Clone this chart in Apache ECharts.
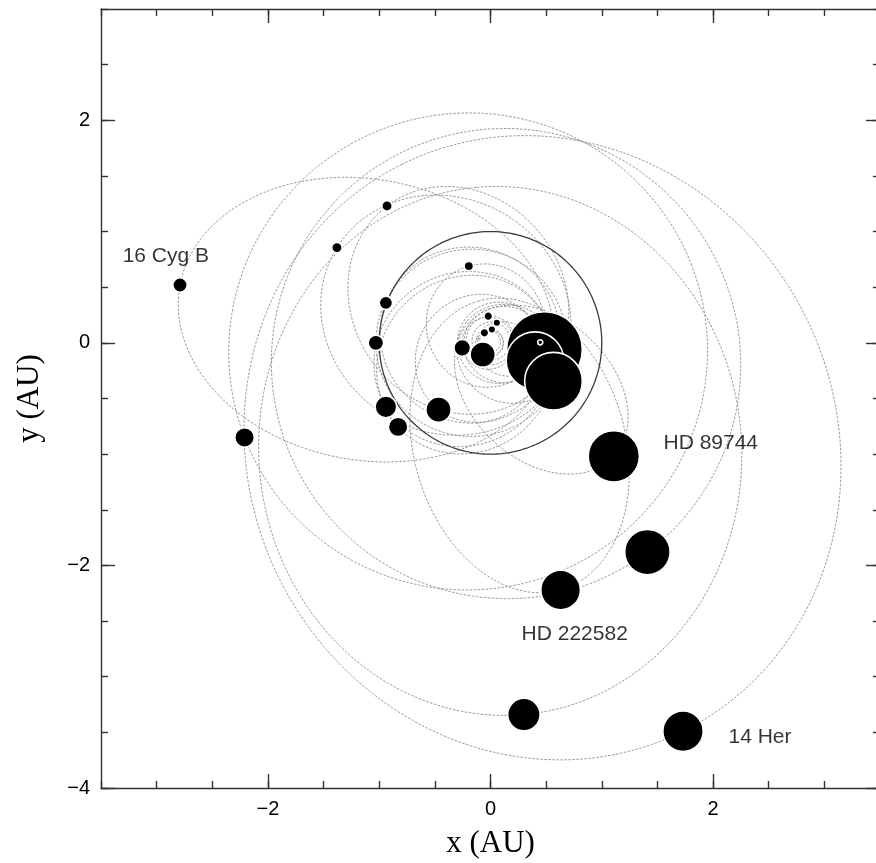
<!DOCTYPE html>
<html>
<head>
<meta charset="utf-8">
<script src="https://cdn.jsdelivr.net/npm/echarts@6/dist/echarts.min.js"></script>
<style>
html,body{margin:0;padding:0;background:#fff;}
#chart{width:876px;height:863px;}
</style>
</head>
<body>
<div id="chart"></div>
<script>
// Planet positions (AU) at apoastron
const planetX = [-2.79, -2.21, -0.93, -1.38, -0.94, -1.03, -0.94, -0.83, -0.467, -0.195, -0.254, -0.07, 0.485, 0.40, 0.447, 0.566, 1.108, 1.41, 0.63, 0.30, 1.73, -0.02, 0.057, 0.012, -0.055];
const planetY = [0.52, -0.85, 1.23, 0.855, 0.36, 0.0, -0.575, -0.755, -0.60, 0.69, -0.045, -0.105, -0.06, -0.16, 0.005, -0.345, -1.02, -1.88, -2.22, -3.34, -3.49, 0.24, 0.18, 0.12, 0.09];
// Orbital eccentricities
const ecc = [0.67, 0.10, 0.45, 0.41, 0.24, 0.20, 0.34, 0.35, 0.30, 0.29, 0.10, 0.05, 0.34, 0.53, 0.20, 0.40, 0.70, 0.11, 0.71, 0.41, 0.37, 0.10, 0.10, 0.05, 0.10];
// Minimum masses (Jupiter masses)
const mass = [1.8, 2.5, 1.25, 1.25, 1.65, 1.95, 2.8, 2.5, 3.3, 1.1, 2.1, 3.3, 10.3, 7.8, 0.5, 7.8, 6.9, 6.1, 5.3, 4.3, 5.4, 1.0, 0.85, 0.85, 1.0];
// Reference orbit of the Earth (AU)
const earthOrbitRadius = 1;

// Star labels
const labelNames = ['16 Cyg B', 'HD 89744', 'HD 222582', '14 Her'];
const labelX = [-3.306, 1.554, 0.279, 2.138];
const labelY = [0.775, -0.905, -2.62, -3.546];

// Axis ticks
const xMajorTicks = [-2, 0, 2];
const xMinorTicks = [-3.5, -3, -2.5, -2, -1.5, -1, -0.5, 0, 0.5, 1, 1.5, 2, 2.5, 3, 3.5];
const yMajorTicks = [-4, -2, 0, 2];
const yMinorTicks = [-4, -3.5, -3, -2.5, -2, -1.5, -1, -0.5, 0, 0.5, 1, 1.5, 2, 2.5, 3];

function orbitPoints(px, py, e) {
  const R = Math.hypot(px, py);
  const a = R / (1 + e);
  const wPer = Math.atan2(py, px) + Math.PI;
  const pts = [];
  for (let k = 0; k <= 720; k++) {
    const th = k * Math.PI / 360;
    const r = a * (1 - e * e) / (1 + e * Math.cos(th));
    pts.push([r * Math.cos(th + wPer), r * Math.sin(th + wPer)]);
  }
  return pts;
}

const chart = echarts.init(document.getElementById('chart'), null, {renderer: 'canvas'});
const fmt = v => String(v).replace('-', '\u2212');
const frame = {color: '#333', width: 1.4};
const tickFont = {fontFamily: 'Liberation Sans, Arial, sans-serif', fontSize: 20, color: '#000'};

function xAx(pos, major, showLabel, showLine) {
  return {
    type: 'value', position: pos, min: -3.5, max: 3.5,
    axisLine: {show: showLine, onZero: false, lineStyle: frame},
    axisTick: {show: true, inside: true, length: major ? 14 : 7, lineStyle: frame,
      customValues: major ? xMajorTicks : xMinorTicks},
    axisLabel: showLabel ? Object.assign({show: true, margin: 11, formatter: fmt, customValues: xMajorTicks}, tickFont) : {show: false},
    splitLine: {show: false},
    name: showLabel ? 'x (AU)' : '',
    nameLocation: 'middle', nameGap: 40,
    nameTextStyle: {fontFamily: 'Liberation Serif, Times New Roman, serif', fontSize: 31, color: '#000'}
  };
}
function yAx(pos, major, showLabel, showLine) {
  return {
    type: 'value', position: pos, min: -4, max: 3,
    axisLine: {show: showLine, onZero: false, lineStyle: frame},
    axisTick: {show: true, inside: true, length: major ? 14 : 7, lineStyle: frame,
      customValues: major ? yMajorTicks : yMinorTicks},
    axisLabel: showLabel ? Object.assign({show: true, margin: 11, formatter: fmt, customValues: yMajorTicks}, tickFont) : {show: false},
    splitLine: {show: false},
    name: showLabel ? 'y (AU)' : '',
    nameLocation: 'middle', nameGap: 56,
    nameTextStyle: {fontFamily: 'Liberation Serif, Times New Roman, serif', fontSize: 31, color: '#000'}
  };
}

const series = [];
for (let i = 0; i < planetX.length; i++) {
  series.push({
    type: 'line', xAxisIndex: 0, yAxisIndex: 0, showSymbol: false, silent: true,
    data: orbitPoints(planetX[i], planetY[i], ecc[i]),
    lineStyle: {color: '#8c8c8c', width: 0.9, type: [2.5, 1.5]},
    z: 2
  });
}
series.push({
  type: 'line', showSymbol: false, silent: true,
  data: orbitPoints(earthOrbitRadius, 0, 0),
  lineStyle: {color: '#3a3a3a', width: 1.3},
  z: 3
});
series.push({
  type: 'scatter', silent: true,
  data: planetX.map((x, i) => [x, planetY[i], mass[i]]),
  symbol: 'circle',
  symbolSize: d => d[2] * 7.2 + 1.5,
  itemStyle: {color: '#000', borderColor: '#fff', borderWidth: 1.6, opacity: 1},
  z: 5
});
series.push({
  type: 'scatter', silent: true,
  data: labelNames.map((n, i) => ({name: n, value: [labelX[i], labelY[i]]})),
  symbolSize: 0.1,
  itemStyle: {color: 'rgba(0,0,0,0)'},
  label: {show: true, position: 'right', distance: 0, formatter: p => p.name,
    fontFamily: 'Liberation Sans, Arial, sans-serif', fontSize: 21, color: '#000', align: 'left', verticalAlign: 'middle'},
  z: 6
});

chart.setOption({
  animation: false,
  backgroundColor: '#fff',
  grid: {left: 101, top: 9, width: 779, height: 779, containLabel: false, outerBoundsMode: 'none'},
  xAxis: [xAx('bottom', true, true, true), xAx('bottom', false, false, false), xAx('top', true, false, true), xAx('top', false, false, false)],
  yAxis: [yAx('left', true, true, true), yAx('left', false, false, false), yAx('right', true, false, true), yAx('right', false, false, false)],
  series: series
});
</script>
</body>
</html>
